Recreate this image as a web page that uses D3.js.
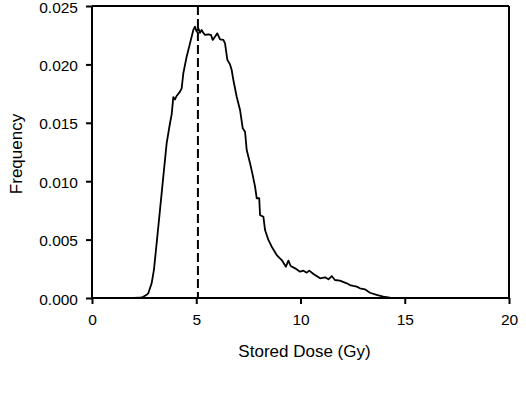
<!DOCTYPE html>
<html>
<head>
<meta charset="utf-8">
<script src="https://cdn.jsdelivr.net/npm/d3@7"></script>
<style>
  html, body { margin: 0; padding: 0; background: #fff; }
  svg { display: block; }
  text { font-family: Arial, "Liberation Sans", sans-serif; fill: #000; }
</style>
</head>
<body>
<svg id="chart" width="526" height="394"></svg>
<script>
// ---- data ----
const doseValues = [0, 2.0, 2.3, 2.46, 2.6, 2.7, 2.86, 2.97, 3.1, 3.26, 3.42, 3.58, 3.74, 3.82, 3.9, 3.98, 4.06, 4.22, 4.3, 4.38, 4.54, 4.7, 4.86, 4.94, 5.02, 5.1, 5.18, 5.26, 5.34, 5.42, 5.58, 5.71, 5.79, 5.9, 6.01, 6.14, 6.3, 6.38, 6.49, 6.62, 6.7, 6.78, 6.94, 7.1, 7.23, 7.34, 7.42, 7.58, 7.69, 7.82, 7.9, 8.02, 8.06, 8.22, 8.3, 8.46, 8.62, 8.86, 9.1, 9.3, 9.42, 9.53, 9.74, 9.98, 10.14, 10.3, 10.42, 10.62, 10.94, 11.18, 11.34, 11.5, 11.65, 11.89, 12.22, 12.37, 12.53, 12.7, 12.85, 13.09, 13.33, 13.65, 13.97, 14.29, 14.6, 15, 20];
const frequencyValues = [0, 0, 0.00002, 0.0001, 0.00025, 0.0004, 0.00126, 0.0024, 0.00468, 0.00753, 0.01039, 0.01324, 0.01496, 0.0157, 0.0172, 0.0170, 0.0173, 0.01767, 0.01795, 0.01924, 0.02066, 0.0218, 0.02295, 0.02323, 0.0228, 0.0231, 0.0227, 0.02295, 0.0227, 0.02252, 0.02257, 0.02252, 0.0221, 0.02237, 0.02266, 0.02215, 0.0221, 0.0218, 0.0204, 0.0200, 0.01952, 0.01866, 0.01723, 0.0161, 0.01453, 0.01424, 0.01267, 0.01153, 0.01067, 0.00953, 0.00854, 0.00854, 0.0071, 0.00696, 0.00582, 0.00497, 0.00439, 0.00368, 0.00325, 0.00268, 0.0032, 0.00274, 0.00254, 0.00225, 0.00234, 0.00217, 0.00234, 0.00205, 0.00169, 0.00177, 0.0016, 0.00188, 0.00154, 0.00148, 0.00126, 0.00111, 0.00103, 0.00097, 0.00083, 0.00074, 0.00045, 0.00026, 0.00011, 0.00003, 0.00001, 0, 0];
const xTicks = [0, 5, 10, 15, 20];
const yTicks = [0, 0.005, 0.010, 0.015, 0.020, 0.025];
const markerDose = 5.08;
const xTitle = "Stored Dose (Gy)";
const yTitle = "Frequency";

// ---- layout ----
const svg = d3.select("#chart");
const mLeft = 92, mRight = 509, mTop = 6, mBottom = 298;

const x = d3.scaleLinear().domain([0, 20]).range([mLeft, mRight]);
const y = d3.scaleLinear().domain([0, 0.025]).range([mBottom, mTop]);

// frame (top and right)
svg.append("line").attr("x1", mLeft).attr("x2", mRight).attr("y1", mTop).attr("y2", mTop)
  .attr("stroke", "#000").attr("stroke-width", 2);
svg.append("line").attr("x1", mRight).attr("x2", mRight).attr("y1", mTop).attr("y2", mBottom)
  .attr("stroke", "#000").attr("stroke-width", 2);

// axes
const xAxis = d3.axisBottom(x).tickValues(xTicks).tickSize(6).tickPadding(10).tickFormat(d3.format("d"));
const yAxis = d3.axisLeft(y).tickValues(yTicks).tickSize(6).tickPadding(8).tickFormat(d3.format(".3f"));

const gx = svg.append("g").attr("transform", `translate(0,${mBottom})`).call(xAxis);
const gy = svg.append("g").attr("transform", `translate(${mLeft},0)`).call(yAxis);
[gx, gy].forEach(g => {
  g.select(".domain").attr("stroke", "#000").attr("stroke-width", 2);
  g.selectAll(".tick line").attr("stroke", "#000").attr("stroke-width", 2);
  g.selectAll(".tick text").attr("font-size", 15.5).attr("font-family", "Arial, 'Liberation Sans', sans-serif").attr("fill", "#000");
});
gy.selectAll(".tick text").attr("y", 1.2);
gx.select(".domain").attr("d", `M${mLeft},0H${mRight}`);
gy.select(".domain").attr("d", `M0,${mTop}V${mBottom}`);

// dashed marker
svg.append("line")
  .attr("x1", x(markerDose)).attr("x2", x(markerDose))
  .attr("y1", y(0.025)).attr("y2", y(0))
  .attr("stroke", "#000").attr("stroke-width", 2)
  .attr("stroke-dasharray", "9,4");

// curve
const pts = doseValues.map((d, i) => [d, frequencyValues[i]]);
svg.append("path")
  .datum(pts)
  .attr("fill", "none")
  .attr("stroke", "#000")
  .attr("stroke-width", 1.8)
  .attr("stroke-linejoin", "round")
  .attr("d", d3.line().x(d => x(d[0])).y(d => y(d[1])));

// titles
svg.append("text")
  .attr("x", (mLeft + mRight) / 2 + 4).attr("y", 357)
  .attr("text-anchor", "middle").attr("font-size", 17)
  .text(xTitle);
svg.append("text")
  .attr("transform", `translate(22,${(mTop + mBottom) / 2 + 2}) rotate(-90)`)
  .attr("text-anchor", "middle").attr("font-size", 17)
  .text(yTitle);
</script>
</body>
</html>
